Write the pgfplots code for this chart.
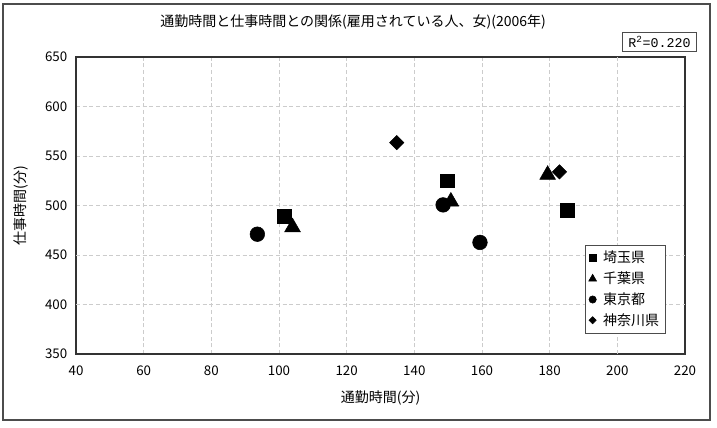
\documentclass[border=0pt]{standalone}
\usepackage{pgfplots}
\pgfplotsset{compat=1.18}
\usepackage{fontspec}
\setmainfont{Noto Sans CJK JP}
\newfontfamily\rfont{Liberation Mono}
\begin{document}
\begin{tikzpicture}[x=0.75pt,y=0.75pt]
\useasboundingbox (0,0) rectangle (717,428);
\draw[black!70,line width=0.8pt] (3,8) rectangle (710,424);
\begin{axis}[
  at={(57pt,55.5pt)}, anchor=south west,
  width=456.75pt, height=222.75pt, scale only axis,
  xmin=40, xmax=220, ymin=350, ymax=650,
  xtick={40,60,...,220}, ytick={350,400,...,650},
  major tick length=0pt,
  grid=major,
  major grid style={densely dashed, gray!40, line width=0.6pt},
  extra y ticks={400,450}, extra y tick labels={},
  extra x ticks={200}, extra x tick labels={},
  extra tick style={grid style={densely dashed, black!75, line width=0.6pt}},
  axis line style={black!80, line width=0.8pt},
  tick label style={font=\fontsize{10}{11}\selectfont},
  yticklabel style={xshift=-3pt},
  xticklabel style={yshift=-5pt},
  /pgf/number format/assume math mode=true,
  xlabel={通勤時間(分)}, ylabel={仕事時間(分)},
  label style={font=\fontsize{10.5}{12}\selectfont},
  xlabel style={at={(axis description cs:0.5,0)}, anchor=center, yshift=-33pt},
  ylabel style={at={(axis description cs:0,0.5)}, anchor=center, rotate=0, xshift=0pt, yshift=41pt},
  legend style={at={(0.836,0.367)}, anchor=north west, draw=black!70,
    font=\fontsize{10.5}{12}\selectfont, row sep=1.2pt, inner sep=2.5pt,
    /tikz/every odd column/.append style={column sep=3pt}},
  legend cell align=left,
  legend image post style={scale=0.5},
  clip=false,
]
\addplot[only marks, mark=square*, mark size=5.2pt, black] coordinates {(101.5,489) (149.7,525) (185.3,495)};
\addlegendentry{埼玉県}
\addplot[only marks, mark=triangle*, mark size=6.8pt, black] coordinates {(104,478) (150.8,504) (179.4,531)};
\addlegendentry{千葉県}
\addplot[only marks, mark=*, mark size=5.5pt, black] coordinates {(93.6,471) (148.5,500.6) (159.4,462.7)};
\addlegendentry{東京都}
\addplot[only marks, mark=square*, mark size=3.8pt, mark options={rotate=45}, black] coordinates {(134.8,563.5) (182.9,534)};
\addlegendentry{神奈川県}
\node[font=\fontsize{10.5}{12}\selectfont] at (rel axis cs:0.455,1.118) {通勤時間と仕事時間との関係(雇用されている人、女)(2006年)};
\node[draw=black!70, line width=0.6pt, font=\rfont\fontsize{10}{12}\selectfont, inner sep=2pt, minimum width=56pt, minimum height=14.5pt] at (rel axis cs:0.958,1.05) {R\textsuperscript{2}=0.220};
\end{axis}
\end{tikzpicture}
\end{document}
